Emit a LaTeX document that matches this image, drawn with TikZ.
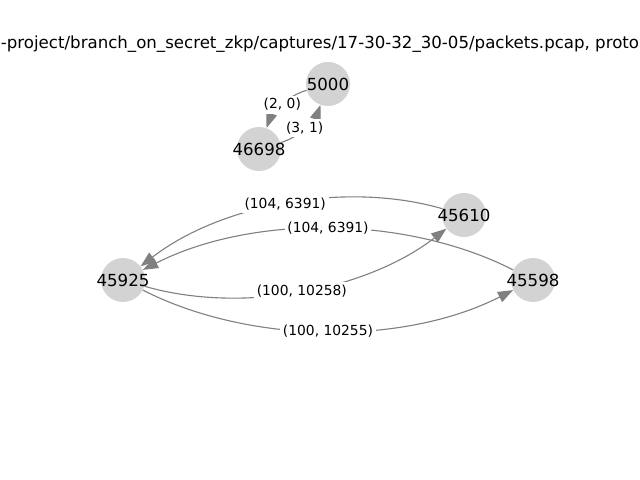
\documentclass[tikz,border=0pt]{standalone}
\usepackage{fontspec}
\setmainfont{DejaVu Sans}
\usepackage{tikz}
\usetikzlibrary{arrows.meta}

\definecolor{hostgray}{HTML}{D3D3D3}
\definecolor{flowgray}{HTML}{808080}

\tikzset{
  host/.style={circle, fill=hostgray, minimum size=0.44in, inner sep=0pt},
  every label/.style={font=\fontsize{12}{14}\selectfont, inner sep=0pt},
  flow/.style={draw=flowgray, line width=0.8pt,
    -{Triangle[length=11pt,width=8pt]}, bend right=27, looseness=0.84},
  flowlabel/.style={fill=white, inner sep=2pt, font=\fontsize{10}{12}\selectfont}
}

\begin{document}
\begin{tikzpicture}[x=0.01in, y=-0.01in]
        \clip (0,0) rectangle (640,480);
        \node[font=\fontsize{12}{14}\selectfont] at (320,44) (title)
          {-project/branch\_on\_secret\_zkp/captures/17-30-32\_30-05/packets.pcap, proto};

        \node[host, label=center:5000] at (328,84) (n5000){};
        \node[host, label=center:46698] at (259,149) (n46698){};
        \node[host, label=center:45610] at (464,215) (n45610){};
        \node[host, label=center:45925] at (123,280) (n45925){};
        \node[host, label=center:45598] at (533,280) (n45598){};

        \path
        (n5000) edge[flow] node[flowlabel] {(2, 0)} (n46698)
        (n46698) edge[flow] node[flowlabel] {(3, 1)} (n5000)
        (n45610) edge[flow] node[flowlabel] {(104, 6391)} (n45925)
        (n45598) edge[flow] node[flowlabel] {(104, 6391)} (n45925)
        (n45925) edge[flow] node[flowlabel] {(100, 10258)} (n45610)
        (n45925) edge[flow] node[flowlabel] {(100, 10255)} (n45598);
    \end{tikzpicture}
\end{document}
